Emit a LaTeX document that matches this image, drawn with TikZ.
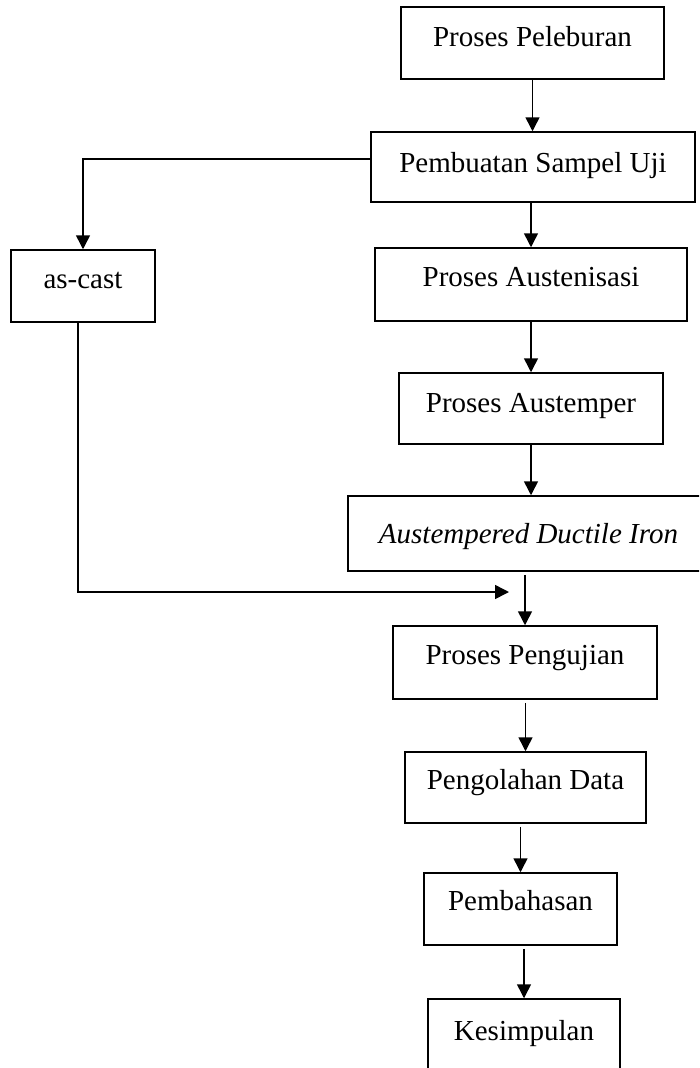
\documentclass[tikz,border=0pt]{standalone}
\usepackage{fontspec}
\setmainfont{Liberation Serif}
\usetikzlibrary{arrows.meta}
\begin{document}
\begin{tikzpicture}[x=1pt,y=-1pt,
  box/.style={draw,line width=1.5pt,rectangle,inner sep=0pt,
    font=\fontsize{29pt}{34pt}\selectfont,text height=22pt,text depth=16pt},
  flow/.style={line width=1.5pt,-{Triangle[length=14pt,width=14pt]}}]
\useasboundingbox (0,0) rectangle (699,1068);
\clip (0,0) rectangle (699,1068);
\node[box,minimum width=263pt,minimum height=72pt] (p1) at (532.5,43) {Proses Peleburan};
\node[box,minimum width=324pt,minimum height=70pt,text depth=12pt] (p2) at (533,167) {Pembuatan Sampel Uji};
\node[box,minimum width=144pt,minimum height=72pt,text depth=18pt] (ac) at (83,286) {as-cast};
\node[box,minimum width=312pt,minimum height=73pt,text depth=19pt] (p4) at (531,284.5) {Proses Austenisasi};
\node[box,minimum width=264pt,minimum height=71pt,text depth=14pt] (p5) at (531,408.5) {Proses Austemper};
\node[box,minimum width=361pt,minimum height=75pt,text depth=3pt] (p6) at (528.5,533.5) {\itshape Austempered Ductile Iron};
\node[box,minimum width=264pt,minimum height=73pt,text depth=18pt] (p7) at (525,662.5) {Proses Pengujian};
\node[box,minimum width=241pt,minimum height=71pt,text depth=18pt] (p8) at (525.5,787.5) {Pengolahan Data};
\node[box,minimum width=193pt,minimum height=72pt,text depth=20pt] (p9) at (520.5,909) {Pembahasan};
\node[box,minimum width=192pt,minimum height=72pt,text depth=12pt] (p10) at (524,1035) {Kesimpulan};
\coordinate (m) at (509,592);
\draw[flow] (p1.south) -- (p1.south |- p2.north);
\draw[flow] (p2.south -| p4.north) -- (p4.north);
\draw[flow] ([yshift=8pt]p2.west) -| (ac.north);
\draw[flow] (p4.south) -- (p4.south |- p5.north);
\draw[flow] (p5.south) -- (p5.south |- p6.north);
\draw[flow,shorten <=3pt] (p6.south -| p7.north) -- (p7.north);
\draw[flow] ([xshift=-5pt]ac.south) |- (m);
\draw[flow,shorten <=3pt] (p7.south -| p8.north) -- (p8.north);
\draw[flow,shorten <=3pt] (p8.south -| p9.north) -- (p9.north);
\draw[flow,shorten <=3pt] (p9.south -| p10.north) -- (p10.north);
\end{tikzpicture}
\end{document}
